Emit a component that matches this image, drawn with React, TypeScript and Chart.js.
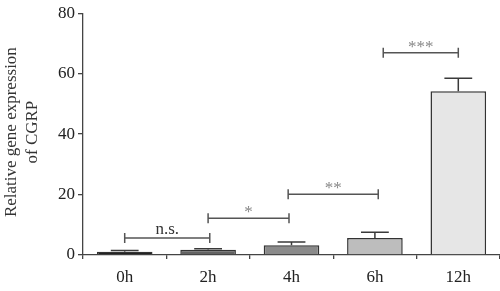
import React, { useEffect, useRef } from "react";
import { Chart, registerables } from "chart.js";

Chart.register(...registerables);

const categories = ["0h", "2h", "4h", "6h", "12h"];
const means = [1.1, 1.7, 3.2, 5.6, 54.2];
const errors = [0.35, 0.35, 1.1, 1.9, 4.3];
const barColors = ["#222222", "#636363", "#8a8a8a", "#bdbdbd", "#e6e6e6"];
const yTicks = [0, 20, 40, 60, 80];
const titleLines = ["Relative gene expression", "of CGRP"];

// significance brackets: start/end as (fractional) category indices, height in data units
const bracketLabels = ["n.s.", "*", "**", "***"];
const bracketStart = [0, 1, 1.96, 3.1];
const bracketEnd = [1.02, 1.97, 3.04, 4];
const bracketHeight = [5.6, 12.2, 20.1, 66.9];

const FONT = "'Liberation Serif', 'Times New Roman', serif";

function catX(scale: any, v: number): number {
  const i = Math.floor(v);
  const f = v - i;
  const a = scale.getPixelForValue(i);
  if (f === 0) return a;
  const b = scale.getPixelForValue(i + 1);
  return a + (b - a) * f;
}

const annotPlugin = {
  id: "annot",
  afterDatasetsDraw(chart: any) {
    const ctx = chart.ctx;
    const xs = chart.scales.x;
    const ys = chart.scales.y;
    const meta = chart.getDatasetMeta(0);
    ctx.save();
    // error bars
    ctx.strokeStyle = "#3a3a3a";
    ctx.lineWidth = 1.5;
    meta.data.forEach((bar: any, i: number) => {
      const x = bar.x;
      const yTop = ys.getPixelForValue(means[i]);
      const yErr = ys.getPixelForValue(means[i] + errors[i]);
      const cap = bar.width / 4;
      ctx.beginPath();
      ctx.moveTo(x, yTop);
      ctx.lineTo(x, yErr);
      ctx.moveTo(x - cap, yErr);
      ctx.lineTo(x + cap, yErr);
      ctx.stroke();
    });
    // brackets
    bracketLabels.forEach((lab, k) => {
      const x1 = catX(xs, bracketStart[k]);
      const x2 = catX(xs, bracketEnd[k]);
      const y = ys.getPixelForValue(bracketHeight[k]);
      ctx.strokeStyle = "#555";
      ctx.lineWidth = 1.5;
      ctx.beginPath();
      ctx.moveTo(x1, y);
      ctx.lineTo(x2, y);
      ctx.moveTo(x1, y - 5);
      ctx.lineTo(x1, y + 5);
      ctx.moveTo(x2, y - 5);
      ctx.lineTo(x2, y + 5);
      ctx.stroke();
      ctx.textAlign = "center";
      ctx.textBaseline = "alphabetic";
      ctx.font = `17px ${FONT}`;
      if (lab === "n.s.") {
        ctx.fillStyle = "#333";
        ctx.fillText(lab, (x1 + x2) / 2, y - 4);
      } else {
        ctx.fillStyle = "#888";
        ctx.fillText(lab, (x1 + x2) / 2, y - 1);
      }
    });
    // y title
    ctx.fillStyle = "#333";
    ctx.font = `17px ${FONT}`;
    ctx.textAlign = "center";
    ctx.textBaseline = "alphabetic";
    const cy = (chart.chartArea.top + chart.chartArea.bottom) / 2 - 2;
    const xsT = [16, 37];
    titleLines.forEach((t, i) => {
      ctx.save();
      ctx.translate(xsT[i], cy);
      ctx.rotate(-Math.PI / 2);
      ctx.fillText(t, 0, 0);
      ctx.restore();
    });
    ctx.restore();
  },
};

export default function App() {
  const ref = useRef<HTMLCanvasElement>(null);
  useEffect(() => {
    const chart = new Chart(ref.current!, {
      type: "bar",
      data: {
        labels: categories,
        datasets: [
          {
            data: means,
            backgroundColor: barColors,
            borderColor: "#333",
            borderWidth: 1.5,
            barPercentage: 0.667,
            categoryPercentage: 1,
          },
        ],
      },
      options: {
        responsive: false,
        animation: false,
        layout: { padding: { top: 10, right: 0, left: 0, bottom: 0 } },
        plugins: { legend: { display: false }, tooltip: { enabled: false } },
        scales: {
          x: {
            afterFit: (s: any) => {
              s.height = 36;
            },
            grid: {
              display: true,
              drawOnChartArea: false,
              drawTicks: true,
              tickLength: 4,
              color: "#444",
              lineWidth: 1.3,
            },
            border: { display: true, color: "#444", width: 1.3 },
            ticks: {
              color: "#222",
              font: { family: FONT, size: 17 },
              padding: 8,
            },
          },
          y: {
            min: 0,
            max: 80,
            afterFit: (s: any) => {
              s.width = 83;
            },
            afterBuildTicks: (s: any) => {
              s.ticks = yTicks.map((v) => ({ value: v }));
            },
            grid: {
              display: true,
              drawOnChartArea: false,
              drawTicks: true,
              tickLength: 5,
              color: "#444",
              lineWidth: 1.3,
            },
            border: { display: true, color: "#444", width: 1.3 },
            ticks: {
              color: "#222",
              font: { family: FONT, size: 17 },
              padding: 3,
            },
          },
        },
      },
      plugins: [annotPlugin],
    });
    return () => chart.destroy();
  }, []);
  return (
    <div style={{ position: "absolute", left: 0, top: 0, width: 500, height: 291, background: "#fff" }}>
      <canvas ref={ref} width={500} height={291} />
    </div>
  );
}
